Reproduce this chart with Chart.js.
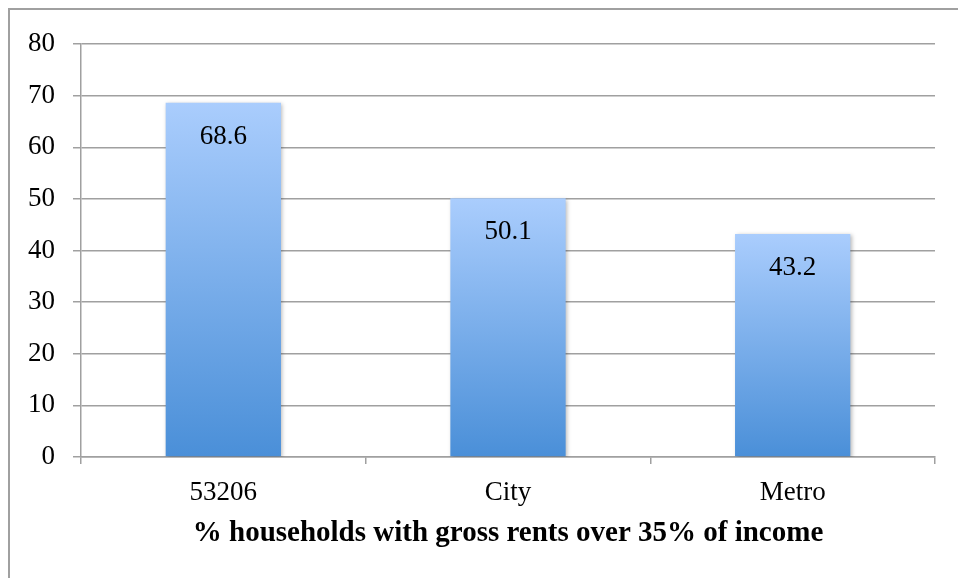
<!DOCTYPE html>
<html>
<head>
<meta charset="utf-8">
<script src="https://cdn.jsdelivr.net/npm/chart.js@4/dist/chart.umd.min.js"></script>
<style>
  html, body { margin: 0; padding: 0; background: #fff; }
  #wrap { position: relative; width: 958px; height: 578px; }
</style>
</head>
<body>
<div id="wrap"><canvas id="grafico" width="958" height="578"></canvas></div>
<script>
// dados do gráfico
const categorias = ['53206', 'City', 'Metro'];
const valores = [68.6, 50.1, 43.2];
const tituloX = '% households with gross rents over 35% of income';
const eixoMin = 0;
const eixoMax = 80;
const eixoPasso = 10;

const fonteSerif = 'Liberation Serif';
const corGrade = '#a0a0a0';

// gradiente por barra, do topo (claro) até a base (escuro)
function corBarra(context) {
    const chart = context.chart;
    if (!chart.chartArea || !chart.scales.y) return '#7fb0ee';
    const y = chart.scales.y;
    const topo = y.getPixelForValue(context.raw);
    const base = y.getPixelForValue(0);
    const g = chart.ctx.createLinearGradient(0, topo, 0, base);
    g.addColorStop(0, '#aacdfd');
    g.addColorStop(1, '#4a8fd8');
    return g;
}

const moldura = {
    id: 'moldura',
    beforeDraw(chart) {
        const ctx = chart.ctx;
        ctx.save();
        ctx.strokeStyle = '#a0a0a0';
        ctx.lineWidth = 2;
        ctx.beginPath();
        ctx.moveTo(9, 578);
        ctx.lineTo(9, 9);
        ctx.lineTo(958, 9);
        ctx.stroke();
        ctx.restore();
    }
};

const sombra = {
    id: 'sombra',
    beforeDatasetsDraw(chart) {
        const ctx = chart.ctx;
        ctx.save();
        ctx.shadowColor = 'rgba(0,0,0,0.28)';
        ctx.shadowBlur = 4;
        ctx.shadowOffsetX = 1.5;
        ctx.shadowOffsetY = 1.5;
    },
    afterDatasetsDraw(chart) {
        chart.ctx.restore();
        // rótulos dentro das barras
        const ctx = chart.ctx;
        const meta = chart.getDatasetMeta(0);
        ctx.save();
        ctx.font = '27px "' + fonteSerif + '"';
        ctx.fillStyle = '#000';
        ctx.textAlign = 'center';
        ctx.textBaseline = 'middle';
        meta.data.forEach((barra, i) => {
            ctx.fillText(valores[i].toFixed(1), barra.x, barra.y + 34);
        });
        ctx.restore();
    }
};

const ctx = document.getElementById('grafico').getContext('2d');
const chart = new Chart(ctx, {
    type: 'bar',
    data: {
        labels: categorias,
        datasets: [{
            data: valores,
            backgroundColor: corBarra,
            borderWidth: 0,
            categoryPercentage: 1,
            barPercentage: 0.405
        }]
    },
    options: {
        responsive: false,
        animation: false,
        devicePixelRatio: 1,
        layout: { padding: { left: 0, right: 23, top: 44, bottom: 23 } },
        plugins: {
            legend: { display: false },
            tooltip: { enabled: false }
        },
        scales: {
            y: {
                min: eixoMin,
                max: eixoMax,
                afterFit(scale) { scale.width = 81; },
                ticks: {
                    stepSize: eixoPasso,
                    color: '#000',
                    padding: 18,
                    font: { family: fonteSerif, size: 27 }
                },
                grid: {
                    color: corGrade,
                    lineWidth: 1.5,
                    tickLength: 8
                },
                border: { color: corGrade, width: 1.5 }
            },
            x: {
                afterFit(scale) { scale.height = 98; },
                ticks: {
                    color: '#000',
                    padding: 13,
                    font: { family: fonteSerif, size: 27 }
                },
                grid: {
                    offset: true,
                    drawOnChartArea: false,
                    color: corGrade,
                    lineWidth: 1.5,
                    tickLength: 7
                },
                border: { color: corGrade, width: 1.5 },
                title: {
                    display: true,
                    text: tituloX,
                    color: '#000',
                    padding: { top: 4 },
                    font: { family: fonteSerif, size: 29, weight: 'bold' }
                }
            }
        }
    },
    plugins: [moldura, sombra]
});
</script>
</body>
</html>
